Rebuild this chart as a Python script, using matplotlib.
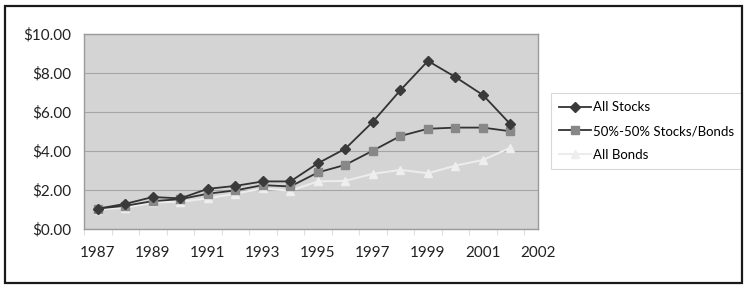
import numpy as np
import matplotlib.pyplot as plt
from matplotlib.patches import Rectangle

# values
years = list(range(1987, 2003))
all_stocks = [1.04, 1.29, 1.64, 1.57, 2.06, 2.21, 2.44, 2.44, 3.37, 4.12,
              5.50, 7.12, 8.62, 7.79, 6.87, 5.37]
mixed = [1.05, 1.19, 1.43, 1.53, 1.81, 1.98, 2.25, 2.18, 2.90, 3.29,
         4.02, 4.77, 5.14, 5.20, 5.20, 5.01]
all_bonds = [1.00, 1.09, 1.36, 1.40, 1.57, 1.81, 2.08, 1.96, 2.44, 2.47,
             2.83, 3.03, 2.86, 3.25, 3.54, 4.17]
series_names = ["All Stocks", "50%-50% Stocks/Bonds", "All Bonds"]

tick_pos = [1987, 1989, 1991, 1993, 1995, 1997, 1999, 2001, 2003]
tick_labels = ["1987", "1989", "1991", "1993", "1995", "1997", "1999", "2001", "2002"]

plt.rcParams["font.family"] = ["Lato", "DejaVu Sans"]

fig = plt.figure(figsize=(7.5, 2.89), dpi=100)
ax = fig.add_axes([84 / 750, 1 - 229 / 289, 454 / 750, 195 / 289])
ax.set_facecolor("#d4d4d4")

ax.plot(years, all_stocks, color="#333333", lw=1.3, marker="D", ms=5,
        mfc="#3a3a3a", mec="#3a3a3a", label=series_names[0], zorder=4)
ax.plot(years, mixed, color="#333333", lw=1.3, marker="s", ms=5.5,
        mfc="#888888", mec="#888888", label=series_names[1], zorder=3)
ax.plot(years, all_bonds, color="#ececec", lw=1.5, marker="^", ms=6,
        mfc="#eeeeee", mec="#eeeeee", label=series_names[2], zorder=2)

ax.set_xlim(1986.5, 2002.5)
ax.set_ylim(0, 10)
ax.set_yticks(np.arange(0, 11, 2))
ax.set_yticklabels([f"${v:.2f}" for v in np.arange(0, 11, 2)])
ax.yaxis.grid(True, color="#a5a5a5", lw=0.8)
ax.set_axisbelow(True)

ax.set_xticks(tick_pos)
ax.set_xticklabels(tick_labels)
ax.set_xticks(np.arange(1986.5, 2003, 1), minor=True)
ax.tick_params(axis="x", which="major", length=0, pad=12)
ax.tick_params(axis="x", which="minor", length=4, color="#e0e0e0", width=0.8)
ax.tick_params(axis="y", length=0, pad=9)
ax.tick_params(labelsize=11, labelcolor="#222222")
for sp in ax.spines.values():
    sp.set_color("#9a9a9a")
    sp.set_linewidth(1.0)
for lbl in ax.get_xticklabels():
    lbl.set_clip_on(False)

leg = ax.legend(loc="center left", bbox_to_anchor=(551 / 750, 1 - 131 / 289),
                bbox_transform=fig.transFigure, frameon=True, fancybox=False,
                fontsize=9.5, handlelength=2.4, borderpad=0.6,
                labelspacing=0.9, handletextpad=0.15, borderaxespad=0)
leg.get_frame().set_edgecolor("#cfcfcf")
leg.get_frame().set_linewidth(0.8)

fig.patches.append(Rectangle((5 / 750, 6 / 289), 737 / 750, 277 / 289,
                             transform=fig.transFigure, fill=False,
                             edgecolor="#1a1a1a", lw=1.6))

fig.savefig("out.png", dpi=100)
